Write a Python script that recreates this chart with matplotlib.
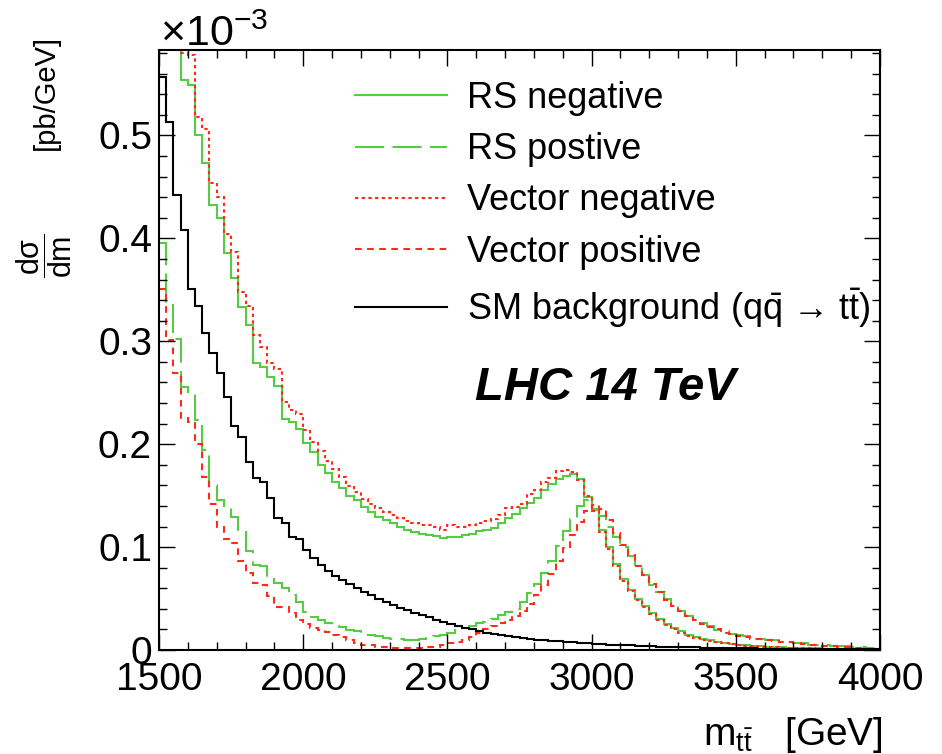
import numpy as np
import matplotlib
matplotlib.use('Agg')
import matplotlib.pyplot as plt
from matplotlib.lines import Line2D
from matplotlib.ticker import MultipleLocator, FuncFormatter

plt.rcParams['font.family'] = ['Liberation Sans', 'DejaVu Sans']
plt.rcParams['mathtext.fontset'] = 'custom'
plt.rcParams['mathtext.rm'] = 'Liberation Sans'
plt.rcParams['mathtext.it'] = 'Liberation Sans:italic'
plt.rcParams['mathtext.bf'] = 'Liberation Sans:bold'

# m_tt binning [GeV], 25 GeV bins
m_lo, m_hi, n_bins = 1500, 4000, 100
edges = np.linspace(m_lo, m_hi, n_bins + 1)

# dsigma/dm in units of 1e-3 pb/GeV
rs_negative = [
    0.780, 0.690, 0.615, 0.554, 0.549, 0.500, 0.473, 0.432, 0.420, 0.386,
    0.361, 0.333, 0.316, 0.279, 0.275, 0.265, 0.257, 0.224, 0.222, 0.215,
    0.201, 0.192, 0.180, 0.172, 0.163, 0.157, 0.150, 0.146, 0.139, 0.134,
    0.129, 0.126, 0.123, 0.120, 0.117, 0.115, 0.113, 0.112, 0.111, 0.109,
    0.110, 0.110, 0.112, 0.113, 0.116, 0.117, 0.119, 0.123, 0.128, 0.132,
    0.138, 0.143, 0.148, 0.155, 0.161, 0.166, 0.169, 0.171, 0.166, 0.149,
    0.136, 0.117, 0.100, 0.084, 0.069, 0.058, 0.050, 0.043, 0.036, 0.030,
    0.025, 0.021, 0.018, 0.015, 0.013, 0.011, 0.0095, 0.008, 0.007, 0.006,
    0.005, 0.0045, 0.004, 0.0035, 0.003, 0.0028, 0.0025, 0.0022, 0.002, 0.0018,
    0.0016, 0.0015, 0.0013, 0.0012, 0.0011, 0.001, 0.0009, 0.0008, 0.0008, 0.0007]

rs_positive = [
    0.395, 0.335, 0.302, 0.256, 0.251, 0.223, 0.194, 0.160, 0.146, 0.138,
    0.129, 0.117, 0.096, 0.083, 0.082, 0.071, 0.065, 0.060, 0.053, 0.047,
    0.037, 0.032, 0.029, 0.026, 0.023, 0.022, 0.019, 0.018, 0.017, 0.015,
    0.014, 0.012, 0.011, 0.011, 0.010, 0.010, 0.011, 0.012, 0.014, 0.015,
    0.017, 0.019, 0.021, 0.023, 0.026, 0.027, 0.030, 0.034, 0.037, 0.040,
    0.047, 0.055, 0.064, 0.075, 0.086, 0.101, 0.116, 0.127, 0.140, 0.146,
    0.137, 0.130, 0.120, 0.110, 0.100, 0.091, 0.083, 0.073, 0.063, 0.056,
    0.050, 0.044, 0.038, 0.033, 0.029, 0.026, 0.023, 0.019, 0.018, 0.016,
    0.015, 0.0135, 0.011, 0.011, 0.0097, 0.0097, 0.008, 0.008, 0.0065, 0.0065,
    0.005, 0.005, 0.0049, 0.004, 0.004, 0.0039, 0.0026, 0.0026, 0.0016, 0.0008]

vector_negative = [
    0.800, 0.720, 0.640, 0.580, 0.578, 0.518, 0.506, 0.454, 0.440, 0.404,
    0.387, 0.348, 0.334, 0.306, 0.294, 0.279, 0.273, 0.241, 0.233, 0.229,
    0.214, 0.202, 0.193, 0.184, 0.176, 0.168, 0.159, 0.154, 0.147, 0.142,
    0.138, 0.134, 0.131, 0.128, 0.125, 0.123, 0.121, 0.121, 0.120, 0.117,
    0.121, 0.120, 0.120, 0.121, 0.123, 0.125, 0.127, 0.131, 0.138, 0.139,
    0.142, 0.152, 0.155, 0.163, 0.167, 0.174, 0.175, 0.173, 0.165, 0.150,
    0.135, 0.115, 0.098, 0.082, 0.067, 0.057, 0.049, 0.042, 0.035, 0.029,
    0.024, 0.020, 0.017, 0.014, 0.012, 0.010, 0.009, 0.0075, 0.0065, 0.0055,
    0.0048, 0.0042, 0.0037, 0.0033, 0.0029, 0.0026, 0.0023, 0.002, 0.0018, 0.0016,
    0.0015, 0.0013, 0.0012, 0.0011, 0.001, 0.0009, 0.0008, 0.0008, 0.0007, 0.0007]

vector_positive = [
    0.351, 0.301, 0.269, 0.225, 0.222, 0.200, 0.168, 0.142, 0.120, 0.108,
    0.1035, 0.086, 0.0745, 0.065, 0.063, 0.052, 0.042, 0.042, 0.036, 0.029,
    0.025, 0.0215, 0.0194, 0.0178, 0.0146, 0.013, 0.0097, 0.0065, 0.0049, 0.0049,
    0.0032, 0.0032, 0.0016, 0.0016, 0.0016, 0.0016, 0.0016, 0.0032, 0.0032, 0.0049,
    0.0065, 0.008, 0.0097, 0.013, 0.0162, 0.020, 0.023, 0.026, 0.029, 0.033,
    0.038, 0.045, 0.053, 0.063, 0.074, 0.086, 0.099, 0.112, 0.124, 0.135,
    0.141, 0.137, 0.126, 0.114, 0.102, 0.092, 0.082, 0.073, 0.064, 0.056,
    0.049, 0.043, 0.038, 0.033, 0.029, 0.025, 0.022, 0.020, 0.017, 0.016,
    0.014, 0.0125, 0.011, 0.0105, 0.0095, 0.009, 0.008, 0.0075, 0.0065, 0.006,
    0.005, 0.0045, 0.004, 0.0035, 0.003, 0.0025, 0.002, 0.0016, 0.0012, 0.0008]

sm_background = [
    0.557, 0.513, 0.442, 0.408, 0.351, 0.334, 0.308, 0.289, 0.269, 0.246,
    0.218, 0.207, 0.183, 0.167, 0.163, 0.148, 0.128, 0.123, 0.110, 0.108,
    0.097, 0.089, 0.083, 0.077, 0.072, 0.068, 0.064, 0.060, 0.056, 0.053,
    0.050, 0.047, 0.044, 0.041, 0.039, 0.036, 0.034, 0.032, 0.029, 0.027,
    0.025, 0.023, 0.021, 0.020, 0.018, 0.017, 0.016, 0.015, 0.014, 0.013,
    0.012, 0.011, 0.010, 0.0095, 0.009, 0.0085, 0.008, 0.0075, 0.007, 0.0065,
    0.006, 0.0056, 0.0053, 0.005, 0.0047, 0.0044, 0.0041, 0.0038, 0.0036, 0.0034,
    0.0032, 0.003, 0.0028, 0.0026, 0.0025, 0.0023, 0.0022, 0.002, 0.0019, 0.0018,
    0.0017, 0.0016, 0.0015, 0.0014, 0.0013, 0.0012, 0.0012, 0.0011, 0.001, 0.001,
    0.0009, 0.0009, 0.0008, 0.0008, 0.0007, 0.0007, 0.0007, 0.0006, 0.0006, 0.0006]

labels = ['RS negative', 'RS postive', 'Vector negative', 'Vector positive',
          r'SM background (q$\mathrm{\bar{q}}$ → t$\mathrm{\bar{t}}$)']

GREEN = '#55cc44'
RED = '#ff2a1a'
LW = 1.5
styles = [
    (rs_negative, GREEN, '-'),
    (rs_positive, GREEN, (0, (14, 4))),
    (vector_negative, RED, (0, (1.6, 1.6))),
    (vector_positive, RED, (0, (3.2, 2.6))),
    (sm_background, 'black', '-'),
]

fig = plt.figure(figsize=(9.42, 7.54), dpi=100)
ax = fig.add_axes([159 / 942, 1 - 650 / 754, 721 / 942, 600 / 754])

for vals, col, ls in styles:
    ax.stairs(vals, edges, baseline=None, fill=False, color=col, linewidth=LW, linestyle=ls)

ax.set_xlim(m_lo, m_hi)
ax.set_ylim(0, 0.583)

ax.xaxis.set_major_locator(MultipleLocator(500))
ax.xaxis.set_minor_locator(MultipleLocator(100))
ax.yaxis.set_major_locator(MultipleLocator(0.1))
ax.yaxis.set_minor_locator(MultipleLocator(0.02))
ax.yaxis.set_major_formatter(FuncFormatter(lambda v, p: '0' if abs(v) < 1e-9 else f'{v:.1f}'))

ax.tick_params(which='both', direction='in', top=True, right=True, labelsize=28, width=1)
ax.tick_params(which='major', length=11.5)
ax.tick_params(which='minor', length=5.8)
ax.tick_params(axis='x', pad=9)
ax.tick_params(axis='y', pad=5)
for sp in ax.spines.values():
    sp.set_linewidth(1.5)

# legend
handles = [Line2D([], [], color=c, lw=LW, linestyle=ls) for _, c, ls in styles]
ax.legend(handles, labels, loc='upper left', bbox_to_anchor=(355 / 942, 1 - 81 / 754),
          bbox_transform=fig.transFigure, frameon=False, fontsize=26,
          handlelength=2.55, handletextpad=0.55, labelspacing=0.45,
          borderpad=0, borderaxespad=0)

fig.text(605 / 942, 1 - 388 / 754, 'LHC 14 TeV', fontsize=34, fontweight='bold',
         style='italic', ha='center', va='center')

fig.text(160 / 942, 1 - 46 / 754, r'$\times$10$^{-3}$', fontsize=31, ha='left', va='baseline')

# y title: fraction plus unit
fig.text(44 / 942, 1 - 256 / 754, r'$\dfrac{\mathrm{d\sigma}}{\mathrm{dm}}$',
         rotation=90, fontsize=22, ha='center', va='center')
fig.text(46 / 942, 1 - 92 / 754, '[pb/GeV]', rotation=90, fontsize=21,
         ha='center', va='center')

fig.text(883 / 942, 1 - 735 / 754, r'm$_{\mathrm{t\bar{t}}}$   [GeV]', fontsize=28,
         ha='right', va='center')

fig.savefig('out.png', dpi=100)
